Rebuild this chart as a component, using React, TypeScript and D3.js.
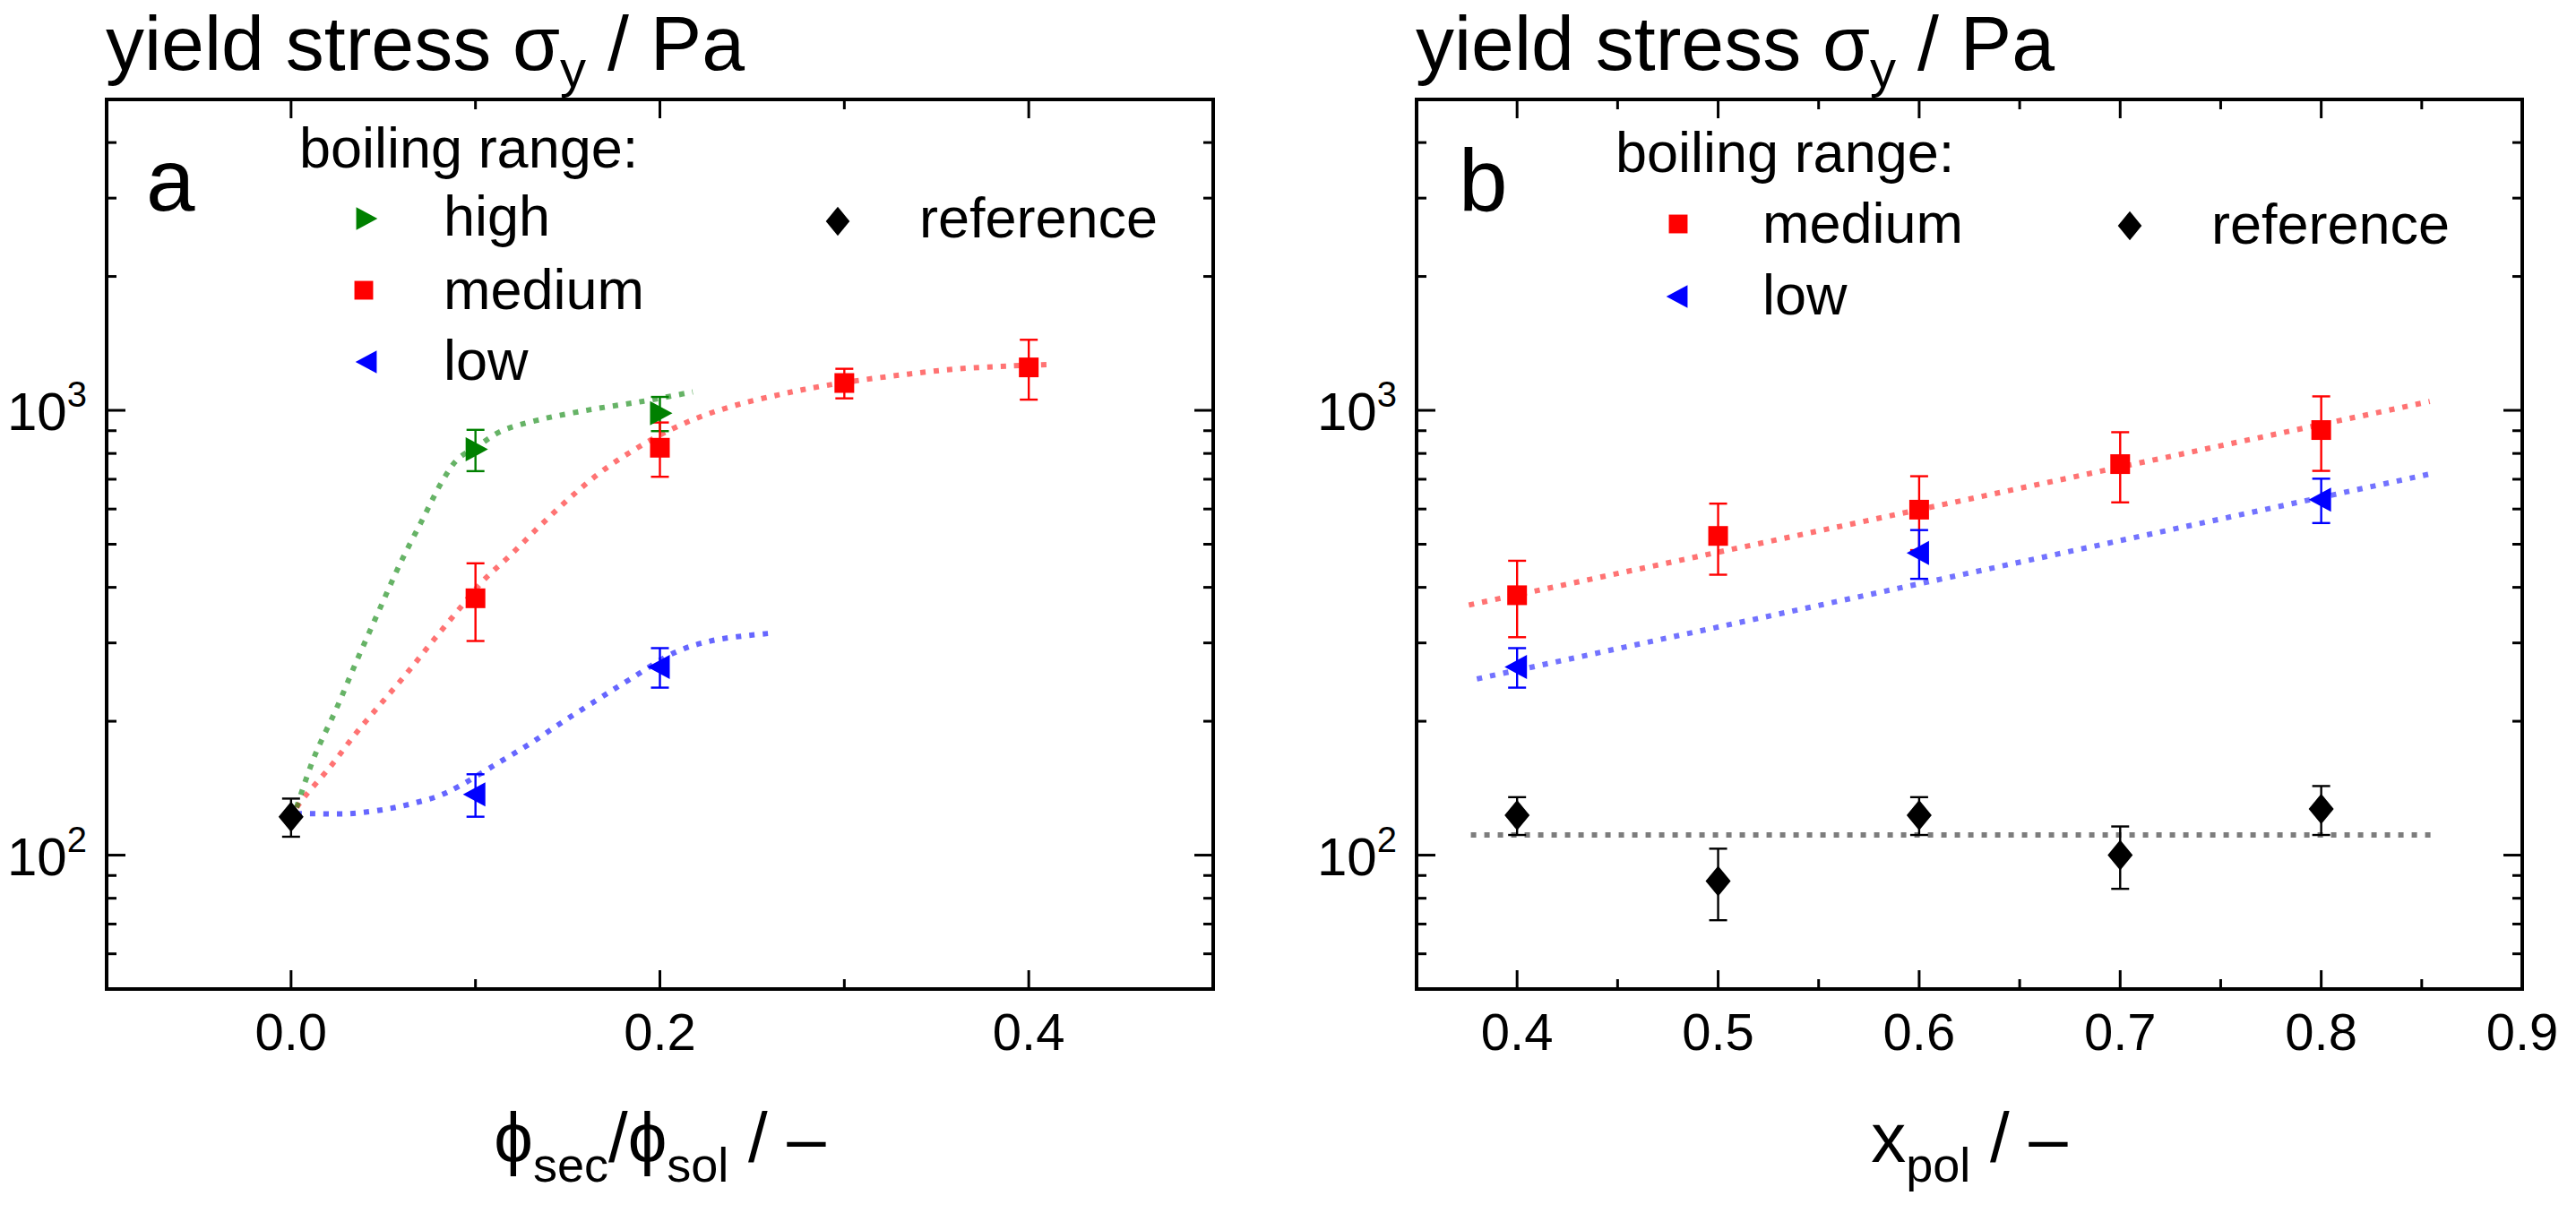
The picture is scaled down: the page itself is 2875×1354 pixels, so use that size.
import React, { useEffect } from "react";
import * as d3 from "d3";

// ---------------- DATA ----------------
// Panel a: x = phi_sec/phi_sol
const highAX = [0.1, 0.2];
const highAY = [817, 985];
const highAErr = [87, 87];

const mediumAX = [0.1, 0.2, 0.3, 0.4];
const mediumAY = [378, 824, 1152, 1249];
const mediumAErr = [75, 115, 88, 192];

const lowAX = [0.1, 0.2];
const lowAY = [137, 265];
const lowAErr = [15, 27];

const refAX = [0];
const refAY = [122];
const refAErr = [12];

// fit curves
const highFitX = [0.003, 0.0125, 0.0245, 0.0357, 0.0472, 0.0589, 0.0718, 0.082, 0.0905, 0.1007, 0.1137, 0.134, 0.162, 0.1908, 0.2178];
const highFitY = [128, 166, 213, 274, 351, 450, 574, 693, 778, 828, 897, 951, 1003, 1048, 1100];

const mediumFitX = [0.003, 0.0078, 0.0218, 0.0348, 0.0487, 0.0623, 0.0757, 0.0896, 0.1044, 0.1193, 0.1342, 0.15, 0.1667, 0.1843, 0.203, 0.2233, 0.2437, 0.264, 0.278, 0.3, 0.33, 0.36, 0.39, 0.413];
const mediumFitY = [128, 136, 159, 187, 219, 255, 299, 351, 415, 474, 546, 629, 720, 807, 893, 972, 1034, 1083, 1114, 1155, 1200, 1238, 1258, 1268];

const lowFitX = [0.003, 0.0097, 0.032, 0.0523, 0.067, 0.0803, 0.0913, 0.111, 0.1295, 0.147, 0.1657, 0.1834, 0.2085, 0.229, 0.2586];
const lowFitY = [124, 124, 124, 127, 131, 136, 143, 160, 178, 199, 223, 248, 286, 304, 315];

// Panel b: x = x_pol
const mediumBX = [0.4, 0.5, 0.6, 0.7, 0.8];
const mediumBY = [384, 522, 598, 757, 903];
const mediumBErr = [75, 95, 113, 136, 172];

const lowBX = [0.4, 0.6, 0.8];
const lowBY = [265, 478, 630];
const lowBErr = [27, 60, 72];

const refBX = [0.4, 0.5, 0.6, 0.7, 0.8];
const refBY = [123, 87.4, 123, 100, 127];
const refBErr = [12, 16, 12, 16, 16];

const mediumBFitX = [0.376, 0.854];
const mediumBFitY = [365, 1047];
const lowBFitX = [0.38, 0.857];
const lowBFitY = [249, 724];
const refBFitX = [0.377, 0.856];
const refBFitY = [111, 111];

// axes
const yDomain = [50, 5000];
const yMajor = [100, 1000];
const yMajorExp = ["2", "3"];
const yMinor = [60, 70, 80, 90, 200, 300, 400, 500, 600, 700, 800, 900, 2000, 3000, 4000];

const xADomain = [-0.1, 0.5];
const xAMajor = [0, 0.2, 0.4];
const xAMajorLabels = ["0.0", "0.2", "0.4"];
const xAMinor = [0.1, 0.3];

const xBDomain = [0.35, 0.9];
const xBMajor = [0.4, 0.5, 0.6, 0.7, 0.8, 0.9];
const xBMajorLabels = ["0.4", "0.5", "0.6", "0.7", "0.8", "0.9"];
const xBMinor = [0.45, 0.55, 0.65, 0.75, 0.85];

// ---------------- STYLE ----------------
const W = 2875;
const H = 1354;
const FONT = "'Liberation Sans', Arial, Helvetica, sans-serif";
const TOP = 111;
const BOTTOM = 1104;

const GREEN = "#008000";
const RED = "#ff0000";
const BLUE = "#0000ff";
const BLACK = "#000000";

type Marker = "square" | "diamond" | "right" | "left";

function markerPath(kind: Marker, x: number, y: number, s = 1): string {
  switch (kind) {
    case "square": {
      const h = 11 * s;
      return `M${x - h},${y - h}H${x + h}V${y + h}H${x - h}Z`;
    }
    case "diamond":
      return `M${x},${y - 17 * s}L${x + 14 * s},${y}L${x},${y + 17 * s}L${x - 14 * s},${y}Z`;
    case "right":
      return `M${x - 11 * s},${y - 13.5 * s}L${x + 14 * s},${y}L${x - 11 * s},${y + 13.5 * s}Z`;
    case "left":
      return `M${x + 11 * s},${y - 13.5 * s}L${x - 14 * s},${y}L${x + 11 * s},${y + 13.5 * s}Z`;
  }
}

interface Series {
  xs: number[];
  ys: number[];
  errs: number[];
  color: string;
  marker: Marker;
}

interface Fit {
  xs: number[];
  ys: number[];
  color: string;
  opacity: number;
}

interface LegendItem {
  label: string;
  color: string;
  marker: Marker;
  mx: number;
  my: number;
  tx: number;
  ty: number;
}

interface PanelProps {
  left: number;
  right: number;
  xDomain: number[];
  xMajor: number[];
  xMajorLabels: string[];
  xMinor: number[];
  series: Series[];
  fits: Fit[];
  letter: string;
  letterX: number;
  legendTitleX: number;
  legendTitleY: number;
  legend: LegendItem[];
  xTitle: React.ReactNode;
}

function Panel(p: PanelProps) {
  const x = d3.scaleLinear().domain(p.xDomain).range([p.left, p.right]);
  const y = d3.scaleLog().domain(yDomain).range([BOTTOM, TOP]);
  const line = d3
    .line<[number, number]>()
    .x((d) => x(d[0]))
    .y((d) => y(d[1]))
    .curve(d3.curveCatmullRom.alpha(0.5));

  const majLen = 21;
  const minLen = 11;
  const tickW = 3;

  return (
    <g>
      {/* title */}
      <text x={p.left - 1} y={78} fontFamily={FONT} fontSize={86} fill="#000">
        <tspan>yield stress σ</tspan>
        <tspan fontSize={58} dy={19}>y</tspan>
        <tspan dy={-19}> / Pa</tspan>
      </text>

      {/* fits */}
      {p.fits.map((f, i) => (
        <path
          key={"fit" + i}
          d={line(f.xs.map((v, j) => [v, f.ys[j]] as [number, number])) || ""}
          fill="none"
          stroke={f.color}
          strokeOpacity={f.opacity}
          strokeWidth={6}
          strokeDasharray="6 9"
        />
      ))}

      {/* error bars */}
      {p.series.map((s, i) =>
        s.xs.map((v, j) => {
          const cx = x(v);
          const y1 = y(s.ys[j] + s.errs[j]);
          const y2 = y(s.ys[j] - s.errs[j]);
          return (
            <g key={`e${i}-${j}`} stroke={s.color} strokeWidth={2.4}>
              <line x1={cx} x2={cx} y1={y1} y2={y2} />
              <line x1={cx - 10} x2={cx + 10} y1={y1} y2={y1} />
              <line x1={cx - 10} x2={cx + 10} y1={y2} y2={y2} />
            </g>
          );
        })
      )}

      {/* markers */}
      {p.series.map((s, i) =>
        s.xs.map((v, j) => (
          <path key={`m${i}-${j}`} d={markerPath(s.marker, x(v), y(s.ys[j]))} fill={s.color} />
        ))
      )}

      {/* frame */}
      <rect
        x={p.left}
        y={TOP}
        width={p.right - p.left}
        height={BOTTOM - TOP}
        fill="none"
        stroke="#000"
        strokeWidth={4}
      />

      {/* x ticks */}
      {p.xMajor.map((v, i) => (
        <g key={"xM" + i} stroke="#000" strokeWidth={tickW}>
          <line x1={x(v)} x2={x(v)} y1={BOTTOM} y2={BOTTOM - majLen} />
          <line x1={x(v)} x2={x(v)} y1={TOP} y2={TOP + majLen} />
        </g>
      ))}
      {p.xMinor.map((v, i) => (
        <g key={"xm" + i} stroke="#000" strokeWidth={tickW}>
          <line x1={x(v)} x2={x(v)} y1={BOTTOM} y2={BOTTOM - minLen} />
          <line x1={x(v)} x2={x(v)} y1={TOP} y2={TOP + minLen} />
        </g>
      ))}
      {p.xMajor.map((v, i) => (
        <text
          key={"xl" + i}
          x={x(v)}
          y={1172}
          textAnchor="middle"
          fontFamily={FONT}
          fontSize={58}
          fill="#000"
        >
          {p.xMajorLabels[i]}
        </text>
      ))}

      {/* y ticks */}
      {yMajor.map((v, i) => (
        <g key={"yM" + i} stroke="#000" strokeWidth={tickW}>
          <line x1={p.left} x2={p.left + majLen} y1={y(v)} y2={y(v)} />
          <line x1={p.right} x2={p.right - majLen} y1={y(v)} y2={y(v)} />
        </g>
      ))}
      {yMinor.map((v, i) => (
        <g key={"ym" + i} stroke="#000" strokeWidth={tickW}>
          <line x1={p.left} x2={p.left + minLen} y1={y(v)} y2={y(v)} />
          <line x1={p.right} x2={p.right - minLen} y1={y(v)} y2={y(v)} />
        </g>
      ))}
      {yMajor.map((v, i) => (
        <text
          key={"yl" + i}
          x={p.left - 22}
          y={y(v) + 22}
          textAnchor="end"
          fontFamily={FONT}
          fontSize={60}
          fill="#000"
        >
          <tspan>10</tspan>
          <tspan fontSize={40} dy={-26}>
            {yMajorExp[i]}
          </tspan>
        </text>
      ))}

      {/* panel letter */}
      <text x={p.letterX} y={235} fontFamily={FONT} fontSize={98} fill="#000">
        {p.letter}
      </text>

      {/* legend */}
      <text x={p.legendTitleX} y={p.legendTitleY} fontFamily={FONT} fontSize={63} fill="#000">
        boiling range:
      </text>
      {p.legend.map((l, i) => (
        <g key={"lg" + i}>
          <path d={markerPath(l.marker, l.mx, l.my, 0.95)} fill={l.color} />
          <text x={l.tx} y={l.ty} fontFamily={FONT} fontSize={63} fill="#000">
            {l.label}
          </text>
        </g>
      ))}

      {/* x title */}
      <text
        x={(p.left + p.right) / 2}
        y={1297}
        textAnchor="middle"
        fontFamily={FONT}
        fontSize={78}
        fill="#000"
      >
        {p.xTitle}
      </text>
    </g>
  );
}

export default function App() {
  useEffect(() => {
    document.body.style.margin = "0";
    document.body.style.background = "#fff";
  }, []);

  const seriesA: Series[] = [
    { xs: refAX, ys: refAY, errs: refAErr, color: BLACK, marker: "diamond" },
    { xs: highAX, ys: highAY, errs: highAErr, color: GREEN, marker: "right" },
    { xs: mediumAX, ys: mediumAY, errs: mediumAErr, color: RED, marker: "square" },
    { xs: lowAX, ys: lowAY, errs: lowAErr, color: BLUE, marker: "left" },
  ];
  const fitsA: Fit[] = [
    { xs: lowFitX, ys: lowFitY, color: BLUE, opacity: 0.6 },
    { xs: mediumFitX, ys: mediumFitY, color: RED, opacity: 0.55 },
    { xs: highFitX, ys: highFitY, color: GREEN, opacity: 0.6 },
  ];
  const seriesB: Series[] = [
    { xs: refBX, ys: refBY, errs: refBErr, color: BLACK, marker: "diamond" },
    { xs: mediumBX, ys: mediumBY, errs: mediumBErr, color: RED, marker: "square" },
    { xs: lowBX, ys: lowBY, errs: lowBErr, color: BLUE, marker: "left" },
  ];
  const fitsB: Fit[] = [
    { xs: refBFitX, ys: refBFitY, color: "#666666", opacity: 0.85 },
    { xs: mediumBFitX, ys: mediumBFitY, color: RED, opacity: 0.55 },
    { xs: lowBFitX, ys: lowBFitY, color: BLUE, opacity: 0.55 },
  ];

  const legendA: LegendItem[] = [
    { label: "high", color: GREEN, marker: "right", mx: 408, my: 244, tx: 495, ty: 263 },
    { label: "medium", color: RED, marker: "square", mx: 406, my: 324, tx: 495, ty: 345 },
    { label: "low", color: BLUE, marker: "left", mx: 410, my: 404, tx: 495, ty: 424 },
    { label: "reference", color: BLACK, marker: "diamond", mx: 935, my: 247, tx: 1026, ty: 265 },
  ];
  const legendB: LegendItem[] = [
    { label: "medium", color: RED, marker: "square", mx: 1873, my: 250, tx: 1967, ty: 271 },
    { label: "low", color: BLUE, marker: "left", mx: 1873, my: 331, tx: 1967, ty: 351 },
    { label: "reference", color: BLACK, marker: "diamond", mx: 2377, my: 252, tx: 2468, ty: 272 },
  ];

  const SUB_DY = 22;
  const SUB_FS = 54;

  return (
    <div style={{ position: "absolute", left: 0, top: 0, background: "#fff" }}>
      <svg width={W} height={H} viewBox={`0 0 ${W} ${H}`} style={{ display: "block" }}>
        <rect x={0} y={0} width={W} height={H} fill="#fff" />
        <Panel
          left={119}
          right={1354}
          xDomain={xADomain}
          xMajor={xAMajor}
          xMajorLabels={xAMajorLabels}
          xMinor={xAMinor}
          series={seriesA}
          fits={fitsA}
          letter="a"
          letterX={163}
          legendTitleX={334}
          legendTitleY={187}
          legend={legendA}
          xTitle={
            <>
              <tspan>ϕ</tspan>
              <tspan fontSize={SUB_FS} dy={SUB_DY}>sec</tspan>
              <tspan dy={-SUB_DY}>/ϕ</tspan>
              <tspan fontSize={SUB_FS} dy={SUB_DY}>sol</tspan>
              <tspan dy={-SUB_DY}>{" / –"}</tspan>
            </>
          }
        />
        <Panel
          left={1581}
          right={2815}
          xDomain={xBDomain}
          xMajor={xBMajor}
          xMajorLabels={xBMajorLabels}
          xMinor={xBMinor}
          series={seriesB}
          fits={fitsB}
          letter="b"
          letterX={1628}
          legendTitleX={1803}
          legendTitleY={192}
          legend={legendB}
          xTitle={
            <>
              <tspan>x</tspan>
              <tspan fontSize={SUB_FS} dy={SUB_DY}>pol</tspan>
              <tspan dy={-SUB_DY}>{" / –"}</tspan>
            </>
          }
        />
      </svg>
    </div>
  );
}
